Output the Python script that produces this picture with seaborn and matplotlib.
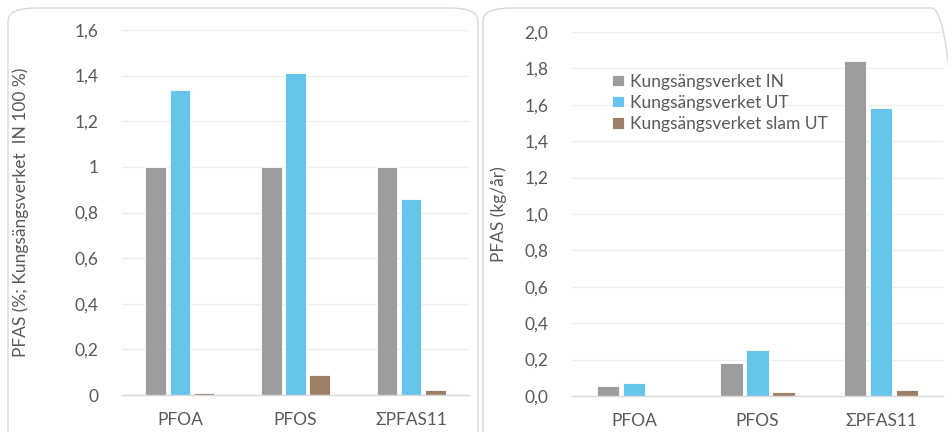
import pandas as pd
import matplotlib.pyplot as plt
import seaborn as sns
from matplotlib.patches import FancyBboxPatch
from matplotlib.ticker import FuncFormatter

# Data
categories = ['PFOA', 'PFOS', 'ΣPFAS11']
series = ['Kungsängsverket IN', 'Kungsängsverket UT', 'Kungsängsverket slam UT']
rel_in = [1.0, 1.0, 1.0]
rel_ut = [1.335, 1.41, 0.86]
rel_slam = [0.008, 0.088, 0.02]
kg_in = [0.053, 0.182, 1.84]
kg_ut = [0.071, 0.254, 1.58]
kg_slam = [0.001, 0.022, 0.034]

colors = ['#9D9D9F', '#67C4EA', '#9E8068']

def long_df(a, b, c):
    rows = []
    for s, vals in zip(series, [a, b, c]):
        for cat, v in zip(categories, vals):
            rows.append({'cat': cat, 'series': s, 'value': v})
    return pd.DataFrame(rows)

df_rel = long_df(rel_in, rel_ut, rel_slam)
df_kg = long_df(kg_in, kg_ut, kg_slam)

sns.set_theme(style='white')
plt.rcParams['font.family'] = ['Lato', 'DejaVu Sans']

W, H = 948, 432
fig = plt.figure(figsize=(W / 100, H / 100), dpi=100)

# rounded panel frames
for x0, x1 in [(8, 478), (483, 960)]:
    box = FancyBboxPatch((x0 / W, -20 / H), (x1 - x0) / W, (H - 8 + 20) / H,
                         boxstyle='round,pad=0,rounding_size=0.03',
                         transform=fig.transFigure, facecolor='none',
                         edgecolor='#D9D9D9', linewidth=1.0, clip_on=False, zorder=-1)
    fig.patches.append(box)

ax1 = fig.add_axes([122 / W, (H - 395) / H, (469 - 122) / W, (395 - 30) / H])
ax2 = fig.add_axes([572 / W, (H - 396) / H, (943 - 572) / W, (396 - 32) / H])

text_color = '#595959'
fs = 12.5
for ax, df, ymax, fmt, ylabel in [
    (ax1, df_rel, 1.6, lambda v, p: ('%g' % round(v, 1)).replace('.', ','),
     'PFAS (%; Kungsängsverket  IN 100 %)'),
    (ax2, df_kg, 2.0, lambda v, p: ('%.1f' % v).replace('.', ','), 'PFAS (kg/år)'),
]:
    sns.barplot(data=df, x='cat', y='value', hue='series', palette=colors,
                saturation=1, width=0.63, gap=0.15, edgecolor='white',
                linewidth=0.6, ax=ax, zorder=2)
    ax.set_ylim(0, ymax)
    ax.set_yticks([i * 0.2 for i in range(int(round(ymax / 0.2)) + 1)])
    ax.yaxis.set_major_formatter(FuncFormatter(fmt))
    ax.grid(axis='y', color='#EDEDED', linewidth=1.0, zorder=0)
    ax.set_axisbelow(True)
    for s in ['left', 'right', 'top']:
        ax.spines[s].set_visible(False)
    ax.spines['bottom'].set_color('#D9D9D9')
    ax.spines['bottom'].set_linewidth(1.0)
    ax.tick_params(axis='both', length=0, labelsize=fs, colors=text_color)
    ax.tick_params(axis='y', pad=17)
    ax.tick_params(axis='x', pad=12)
    ax.set_xlabel('')
    ax.set_ylabel(ylabel, fontsize=fs, color=text_color)
    ax.set_facecolor('white')

ax1.get_legend().remove()
ax1.yaxis.set_label_coords(-0.268, 0.5)
ax2.yaxis.set_label_coords(-0.175, 0.5)

leg = ax2.legend(loc='upper left', bbox_to_anchor=(0.09, 0.905), frameon=False,
                 fontsize=fs, handlelength=0.65, handleheight=0.65,
                 handletextpad=0.35, labelspacing=0.3, borderaxespad=0)
for t in leg.get_texts():
    t.set_color(text_color)

fig.savefig('out.png', dpi=100, facecolor='white')
